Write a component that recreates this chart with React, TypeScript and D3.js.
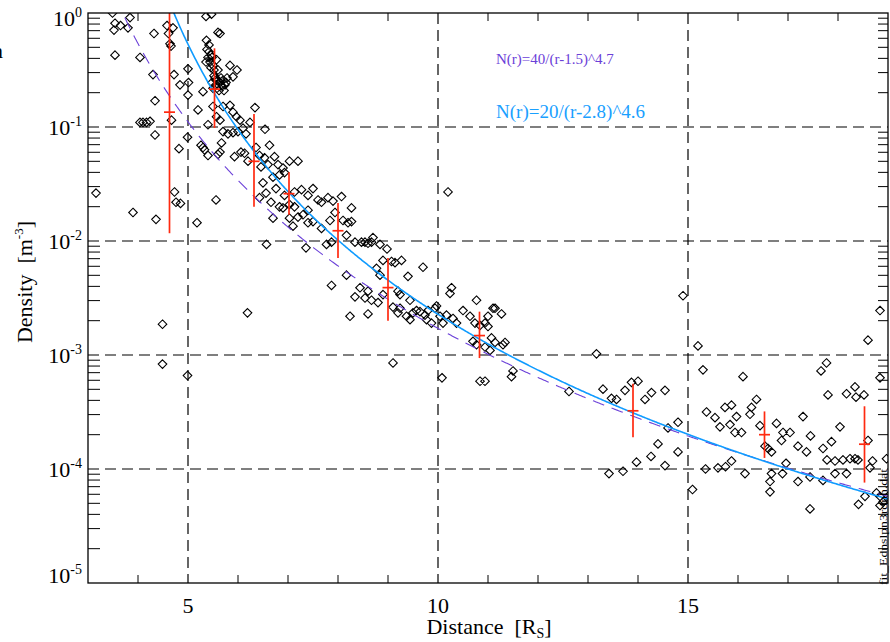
import React from 'react';
import * as d3 from 'd3';

// scatter data: distance [Rs] and log10 density
const pointDistance = [
  3.49,3.54,3.52,3.65,3.84,3.80,3.54,4.04,4.32,4.58,4.61,4.70,4.64,4.66,4.30,4.72,4.34,4.84,5.00,5.01,
  5.00,4.67,4.04,4.10,4.17,4.24,4.34,4.82,4.99,4.73,4.76,4.85,3.16,3.90,4.36,5.18,4.49,4.49,4.99,6.19,
  6.57,
  5.36,5.47,5.60,5.64,5.37,5.38,5.42,5.46,5.40,5.44,5.50,5.46,5.57,5.60,5.84,5.98,5.90,5.78,5.54,5.60,
  5.64,5.56,5.70,5.74,5.50,5.62,5.30,5.20,5.50,5.70,5.84,5.90,5.57,5.64,5.97,6.04,6.24,6.34,6.54,5.40,
  5.70,5.80,5.90,6.00,6.10,5.30,5.40,5.64,5.67,5.93,6.06,6.13,6.20,6.36,6.63,6.43,6.53,6.73,6.80,6.60,
  6.46,6.90,7.03,7.20,6.50,6.70,6.83,6.93,6.76,6.56,6.43,6.66,6.83,6.93,7.13,7.03,7.13,7.20,7.03,6.70,
  7.10,5.26,5.33,5.60,5.56,6.16,7.36,6.90,
  5.52,5.56,5.66,5.68,5.58,5.48,5.72,5.76,5.42,5.48,5.36,5.52,
  7.27,7.40,7.50,7.60,7.67,7.80,7.90,8.07,8.27,7.30,7.40,7.50,7.40,7.67,7.84,7.94,8.10,8.20,8.27,8.17,
  7.77,7.87,8.34,8.47,8.54,8.60,8.67,8.70,8.84,8.98,8.90,9.07,9.14,9.27,9.70,9.40,8.77,8.84,8.17,7.87,
  8.44,8.60,8.34,8.54,8.67,8.80,8.90,9.20,9.24,9.44,8.24,8.60,9.10,9.24,9.20,9.37,9.44,9.50,9.57,9.64,
  9.74,9.80,9.94,9.97,9.77,9.87,10.04,10.17,10.10,10.30,10.37,10.50,10.64,10.77,10.74,10.94,11.00,11.10,10.27,10.24,
  10.20,9.10,10.08,10.84,10.94,11.14,11.27,10.84,11.00,11.07,11.14,11.30,11.34,10.94,10.77,11.04,10.70,11.50,11.47,
  12.62,13.17,13.30,13.47,13.57,13.74,13.87,14.00,14.14,14.27,14.54,14.80,14.60,14.40,14.26,13.97,13.70,13.42,14.54,14.80,
  15.20,15.30,16.10,15.37,15.54,15.64,15.74,15.87,15.84,15.97,15.94,16.07,16.27,16.24,16.37,16.44,16.54,16.60,16.67,16.77,
  16.90,17.04,16.87,17.30,17.45,17.20,17.37,17.66,17.77,17.80,18.17,18.34,18.36,18.52,18.60,18.84,18.04,17.87,17.70,17.78,
  17.94,18.10,18.24,18.34,18.40,18.60,18.69,18.64,18.97,16.96,16.67,16.14,15.87,15.75,15.60,15.35,16.89,17.20,17.44,17.70,
  17.94,18.17,16.64,16.64,15.09,17.44,18.41,18.54,18.77,18.84,18.90,19.00,18.84,14.90,18.84,
];
const pointLogDensity = [
  -0.00,-0.09,-0.15,-0.11,-0.04,-0.13,-0.37,-0.39,-0.18,-0.11,-0.18,-0.13,-0.27,-0.29,-0.54,-0.54,-0.77,-0.63,-0.49,-0.61,
  -0.72,-0.94,-0.96,-0.96,-0.96,-0.95,-1.07,-1.19,-1.09,-1.57,-1.66,-1.67,-1.58,-1.75,-1.81,-1.84,-2.73,-3.08,-3.18,-2.63,
  -2.03,
  -0.03,-0.01,-0.17,-0.18,-0.24,-0.32,-0.34,-0.37,-0.39,-0.43,-0.46,-0.48,-0.41,-0.50,-0.46,-0.50,-0.56,-0.57,-0.57,-0.59,
  -0.61,-0.63,-0.59,-0.63,-0.66,-0.68,-0.69,-0.85,-0.82,-0.82,-0.81,-0.87,-0.91,-0.94,-0.91,-0.94,-0.96,-0.83,-1.02,-0.98,
  -1.04,-1.06,-1.05,-1.04,-1.01,-1.18,-1.25,-1.22,-1.14,-1.26,-1.22,-1.23,-1.30,-1.18,-1.16,-1.25,-1.27,-1.26,-1.33,-1.33,
  -1.35,-1.36,-1.30,-1.30,-1.49,-1.44,-1.42,-1.40,-1.54,-1.58,-1.62,-1.66,-1.70,-1.60,-1.57,-1.68,-1.70,-1.79,-1.80,-1.80,
  -1.87,-1.16,-1.20,-1.24,-1.64,-1.06,-2.06,-1.71,
  -0.55,-0.59,-0.57,-0.64,-0.66,-0.61,-0.68,-0.61,-0.28,-0.39,-0.43,-0.50,
  -1.55,-1.60,-1.54,-1.64,-1.66,-1.62,-1.65,-1.61,-1.71,-1.77,-1.73,-1.83,-1.84,-1.89,-1.82,-1.75,-1.82,-1.84,-1.83,-1.95,
  -2.03,-2.01,-2.01,-2.01,-2.01,-2.02,-2.01,-1.97,-2.03,-2.07,-2.17,-2.18,-2.19,-2.17,-2.23,-2.31,-2.24,-2.30,-2.30,-2.39,
  -2.41,-2.44,-2.49,-2.50,-2.52,-2.54,-2.47,-2.44,-2.47,-2.52,-2.66,-2.64,-2.58,-2.59,-2.63,-2.66,-2.69,-2.63,-2.61,-2.62,
  -2.65,-2.61,-2.59,-2.57,-2.69,-2.72,-2.66,-2.65,-2.72,-2.68,-2.72,-2.61,-2.66,-2.52,-2.72,-2.72,-2.66,-2.59,-2.41,-2.46,
  -1.57,-3.07,-3.20,-3.23,-3.23,-2.59,-2.64,-2.74,-2.75,-2.85,-2.89,-2.91,-2.89,-2.93,-2.91,-2.96,-2.88,-3.14,-3.19,
  -3.32,-2.99,-3.30,-3.38,-3.39,-3.31,-3.24,-3.23,-3.39,-3.33,-3.31,-3.59,-3.64,-3.78,-3.89,-3.94,-4.02,-4.04,-3.97,-3.85,
  -2.92,-3.13,-3.19,-3.50,-3.55,-3.63,-3.46,-3.44,-3.61,-3.54,-3.68,-3.68,-3.46,-3.52,-3.39,-3.62,-3.80,-3.82,-3.85,-3.60,
  -3.68,-3.68,-3.75,-3.54,-3.71,-3.80,-3.85,-3.14,-3.07,-3.35,-3.34,-3.28,-3.37,-3.35,-2.87,-3.20,-3.63,-3.76,-3.82,-3.92,
  -3.93,-3.92,-3.91,-3.91,-3.92,-3.75,-3.93,-3.99,-3.91,-3.95,-4.04,-4.04,-3.93,-3.98,-3.99,-4.00,-4.04,-4.11,-4.07,-4.10,
  -4.04,-4.04,-4.11,-4.20,-4.18,-4.35,-4.31,-4.24,-4.21,-4.24,-4.29,-4.24,-4.32,-2.48,-2.61,
];

// binned means with error bars
const binDistance = [4.63, 5.53, 6.32, 7.02, 8.0, 9.0, 10.83, 13.9, 16.53, 18.53];
const binMean = [0.135, 0.215, 0.050, 0.026, 0.0123, 0.0039, 0.00148, 3.24e-4, 2.0e-4, 1.65e-4];
const binLow = [0.0117, 0.098, 0.020, 0.017, 0.0071, 0.0020, 0.00094, 1.9e-4, 1.25e-4, 7.6e-5];
const binHigh = [1.3, 0.49, 0.13, 0.040, 0.0215, 0.0071, 0.0024, 5.6e-4, 3.2e-4, 3.55e-4];

// fit models N(r) = a / (r - r0)^p
const fitPurple = [40, 1.5, 4.7];
const fitBlue = [20, 2.8, 4.6];

const xMajorTicks = [5, 10, 15];
const xMinorTicks = [4, 6, 7, 8, 9, 11, 12, 13, 14, 16, 17, 18];
const yDecades = [0, -1, -2, -3, -4, -5];

const FONT = 'Liberation Serif, DejaVu Serif, serif';

export default function App() {
  const L = 88, R = 888, T = 13, B = 583;
  const x = d3.scaleLinear().domain([3, 19]).range([L, R]);
  const y = d3.scaleLog().domain([1e-5, 1]).range([B, T]);

  const rs = d3.range(3.0, 19.0001, 0.02);
  const model = (c: number[]) => (r: number) => c[0] / Math.pow(r - c[1], c[2]);
  const line = (f: (r: number) => number) =>
    d3.line<number>().x(r => x(r)).y(r => y(f(r)))(rs.filter(r => f(r) > 0)) || '';

  const minorY: number[] = [];
  for (let e = -5; e < 0; e++) for (let k = 2; k <= 9; k++) minorY.push(k * Math.pow(10, e));

  const ds = 4.3;
  const diamonds = pointDistance.map((r, i) => {
    const cx = x(r), cy = y(Math.pow(10, pointLogDensity[i]));
    return `M${cx},${cy - ds}L${cx + ds},${cy}L${cx},${cy + ds}L${cx - ds},${cy}Z`;
  }).join('');

  const red = '#ff2a10';
  const dash = '11,6';
  const tf = { fontFamily: FONT };

  return (
    <svg width={890} height={642} style={{ position: 'absolute', left: 0, top: 0, background: '#fff', fontFamily: FONT }}>
      <defs>
        <clipPath id="plotclip"><rect x={L} y={T} width={R - L} height={B - T} /></clipPath>
      </defs>
      <rect x={0} y={0} width={890} height={642} fill="#fff" />

      {/* grid */}
      {yDecades.slice(1, 5).map(e => (
        <line key={'gy' + e} x1={L} x2={R} y1={y(Math.pow(10, e))} y2={y(Math.pow(10, e))}
          stroke="#000" strokeWidth={1.2} strokeDasharray={dash} />
      ))}
      {xMajorTicks.map(v => (
        <line key={'gx' + v} x1={x(v)} x2={x(v)} y1={T} y2={B} stroke="#000" strokeWidth={1.2} strokeDasharray={dash} />
      ))}

      {/* minor ticks */}
      {minorY.map((v, i) => (
        <g key={'my' + i}>
          <line x1={L} x2={L + 12} y1={y(v)} y2={y(v)} stroke="#000" strokeWidth={1} />
          <line x1={R} x2={R - 10} y1={y(v)} y2={y(v)} stroke="#000" strokeWidth={1} />
        </g>
      ))}
      {xMinorTicks.map(v => (
        <g key={'mx' + v}>
          <line x1={x(v)} x2={x(v)} y1={B} y2={B - 8} stroke="#000" strokeWidth={1} />
          <line x1={x(v)} x2={x(v)} y1={T} y2={T + 8} stroke="#000" strokeWidth={1} />
        </g>
      ))}

      <g clipPath="url(#plotclip)">
        <path d={diamonds} fill="none" stroke="#000" strokeWidth={1.1} />
        <path d={line(model(fitPurple))} fill="none" stroke="#6b40d8" strokeWidth={1.1} strokeDasharray="12,8" />
        <path d={line(model(fitBlue))} fill="none" stroke="#0f9bff" strokeWidth={1.6} />
        {binDistance.map((r, i) => (
          <g key={'eb' + i} stroke={red} strokeWidth={1.7}>
            <line x1={x(r)} x2={x(r)} y1={y(binLow[i])} y2={y(binHigh[i])} />
            <line x1={x(r) - 5.5} x2={x(r) + 5.5} y1={y(binMean[i])} y2={y(binMean[i])} />
          </g>
        ))}
      </g>

      {/* frame */}
      <rect x={L} y={T} width={R - L} height={B - T} fill="none" stroke="#000" strokeWidth={1.3} />

      {/* y tick labels */}
      {yDecades.map((e, i) => {
        const off = i === 0 ? 13 : i === yDecades.length - 1 ? 0 : 8;
        return (
          <text key={'yl' + e} x={82} y={y(Math.pow(10, e)) + off} textAnchor="end" fontSize={22} fill="#000" style={tf}>
            10<tspan fontSize={14} dy={-9}>{e === 0 ? '0' : '-' + (-e)}</tspan>
          </text>
        );
      })}

      {/* x tick labels */}
      {xMajorTicks.map(v => (
        <text key={'xl' + v} x={x(v)} y={613} textAnchor="middle" fontSize={22} fill="#000" style={tf}>{v}</text>
      ))}

      {/* axis titles */}
      <text x={489} y={634} textAnchor="middle" fontSize={22} fill="#000" style={{ ...tf, whiteSpace: 'pre' }}>
        {'Distance  [R'}<tspan fontSize={14} dy={4}>S</tspan><tspan dy={-4}>]</tspan>
      </text>
      <text transform="translate(32,282) rotate(-90)" textAnchor="middle" fontSize={22} fill="#000"
        style={{ ...tf, whiteSpace: 'pre' }}>
        {'Density  [m'}<tspan fontSize={13} dy={-9}>-3</tspan><tspan dy={9}>]</tspan>
      </text>

      {/* annotations */}
      <text x={496} y={64} fontSize={15} fill="#6b40d8" style={tf}>N(r)=40/(r-1.5)^4.7</text>
      <text x={496} y={118} fontSize={19} fill="#1aa0ff" style={tf}>N(r)=20/(r-2.8)^4.6</text>

      <text transform="translate(887,585) rotate(-90)" fontSize={11} fill="#000" textLength={116}
        lengthAdjust="spacingAndGlyphs" style={tf}>fit_Ednslpn3rdnh.dat</text>

      <text x={-8} y={58} fontSize={22} fill="#000" style={tf}>n</text>
    </svg>
  );
}
